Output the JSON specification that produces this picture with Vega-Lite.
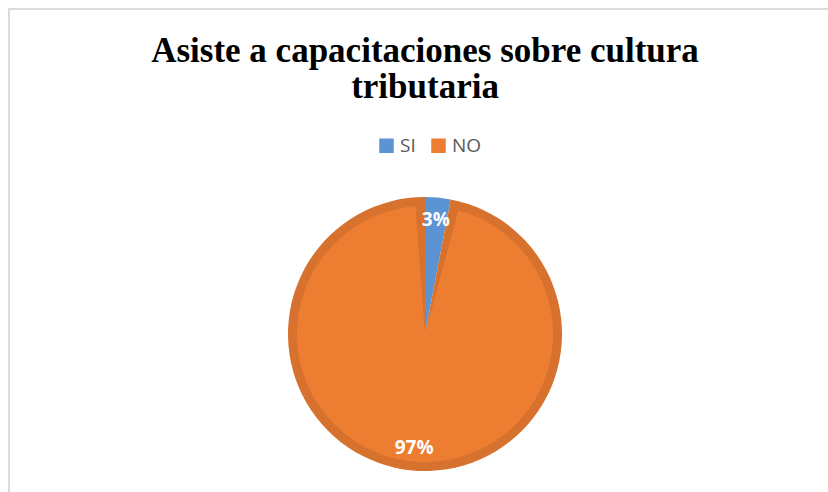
{
  "$schema": "https://vega.github.io/schema/vega-lite/v6.json",
  "autosize": "none",
  "padding": {"top": 9, "left": 9, "right": 0, "bottom": 0},
  "width": 832,
  "height": 650,
  "background": "white",
  "config": {"view": {"stroke": null}},
  "title": {
    "text": ["Asiste a capacitaciones sobre cultura", "tributaria"],
    "font": "Liberation Serif",
    "fontSize": 35,
    "fontWeight": "bold",
    "color": "#000000",
    "anchor": "middle",
    "lineHeight": 36,
    "offset": -60,
    "dy": 37
  },
  "data": {
    "values": [
      {"respuesta": "SI", "valor": 3, "label": "3%"},
      {"respuesta": "NO", "valor": 97, "label": "97%"}
    ]
  },
  "encoding": {
    "theta": {"field": "valor", "type": "quantitative", "stack": true},
    "order": {"field": "respuesta", "sort": "descending"}
  },
  "layer": [
    {
      "mark": {"type": "rect", "fill": null, "stroke": "#d9d9d9", "strokeWidth": 1.5},
      "encoding": {}
    },
    {
      "mark": {"type": "arc", "outerRadius": 137},
      "encoding": {
        "color": {
          "field": "respuesta",
          "type": "nominal",
          "scale": {"domain": ["SI", "NO"], "range": ["#5b93d3", "#d6722e"]},
          "legend": null
        }
      }
    },
    {
      "mark": {"type": "arc", "outerRadius": 128, "padAngle": 0.15},
      "encoding": {
        "color": {
          "field": "respuesta",
          "type": "nominal",
          "scale": {"domain": ["SI", "NO"], "range": ["#5b93d3", "#ed7d31"]},
          "legend": {
            "title": null,
            "orient": "none",
            "legendX": 368,
            "legendY": 127,
            "direction": "horizontal",
            "symbolType": "square",
            "symbolSize": 210,
            "symbolStrokeWidth": 0,
            "labelFont": "Open Sans",
            "labelFontSize": 19,
            "labelColor": "#595959",
            "columnPadding": 13,
            "labelOffset": 4
          }
        }
      }
    },
    {
      "mark": {"type": "text", "radius": 115, "font": "Open Sans", "fontSize": 19, "fontWeight": "bold", "color": "white"},
      "encoding": {"text": {"field": "label"}}
    }
  ],
  "resolve": {"scale": {"color": "independent"}, "legend": {"color": "independent"}}
}
